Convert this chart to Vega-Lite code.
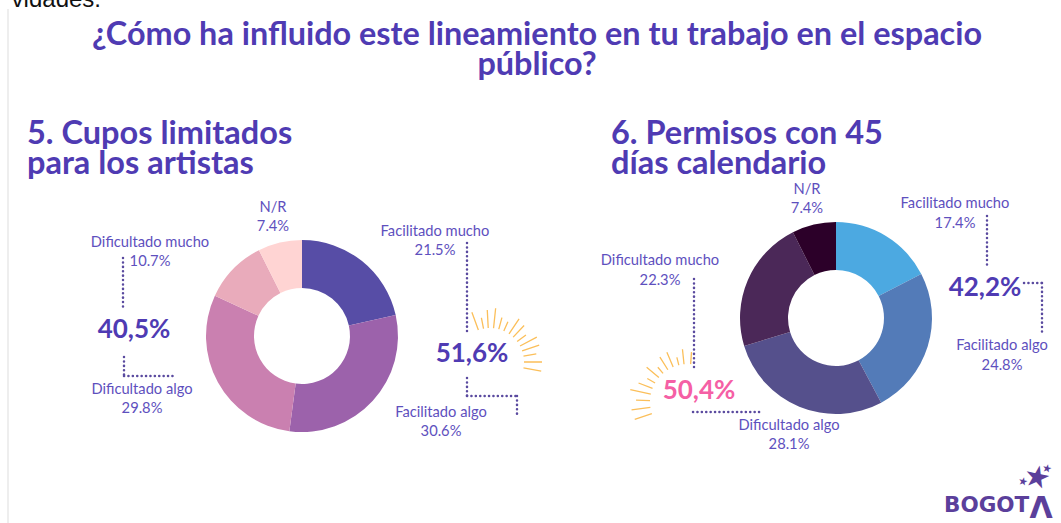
{"$schema":"https://vega.github.io/schema/vega-lite/v6.json","width":1061,"height":523,"autosize":{"type":"fit","contains":"padding"},"padding":0,"background":"white","config":{"view":{"stroke":null},"text":{"font":"Lato"}},
"data":{"values":[{"anotacion":1}]},
"datasets":{"d":[
{"grafico":5,"categoria":"Facilitado mucho","pct":21.5,"orden":1},{"grafico":5,"categoria":"Facilitado algo","pct":30.6,"orden":2},{"grafico":5,"categoria":"Dificultado algo","pct":29.8,"orden":3},{"grafico":5,"categoria":"Dificultado mucho","pct":10.7,"orden":4},{"grafico":5,"categoria":"N/R","pct":7.4,"orden":5},
{"grafico":6,"categoria":"Facilitado mucho","pct":17.4,"orden":1},{"grafico":6,"categoria":"Facilitado algo","pct":24.8,"orden":2},{"grafico":6,"categoria":"Dificultado algo","pct":28.1,"orden":3},{"grafico":6,"categoria":"Dificultado mucho","pct":22.3,"orden":4},{"grafico":6,"categoria":"N/R","pct":7.4,"orden":5}],
"rayos":[
{"sol":1,"a":-20,"r":53},{"sol":1,"a":-11,"r":45},{"sol":1,"a":-3,"r":52},{"sol":1,"a":6,"r":54},{"sol":1,"a":15,"r":46},{"sol":1,"a":24,"r":44},{"sol":1,"a":34,"r":52},{"sol":1,"a":43,"r":50},{"sol":1,"a":53,"r":45},{"sol":1,"a":62,"r":53},{"sol":1,"a":71,"r":52},{"sol":1,"a":80,"r":47},{"sol":1,"a":90,"r":52},{"sol":1,"a":100,"r":52},
{"sol":2,"a":4,"r":50},{"sol":2,"a":-6,"r":53},{"sol":2,"a":-14,"r":46},{"sol":2,"a":-23,"r":54},{"sol":2,"a":-32,"r":53},{"sol":2,"a":-41,"r":46},{"sol":2,"a":-50,"r":54},{"sol":2,"a":-60,"r":47},{"sol":2,"a":-69,"r":53},{"sol":2,"a":-78,"r":59},{"sol":2,"a":-88,"r":52},{"sol":2,"a":-98,"r":57},{"sol":2,"a":-108,"r":56}]},
"resolve":{"scale":{"color":"independent","theta":"independent","radius":"independent"}},
"layer":[
{"mark":{"type":"rule","color":"#e8e8e8","strokeWidth":1.5},"encoding":{"x":{"value":8},"y":{"value":9},"y2":{"value":523}}},
{"mark":{"type":"text","clip":true,"align":"right","baseline":"alphabetic","font":"Liberation Sans","fontSize":24,"color":"#111111","x":101,"y":7,"text":"vidades."},"encoding":{}},
{"mark":{"type":"text","align":"center","baseline":"middle","fontWeight":"bold","fontSize":32.4,"color":"#4F3BB3","lineHeight":30,"x":537,"y":35,"text":["¿Cómo ha influido este lineamiento en tu trabajo en el espacio","público?"]},"encoding":{}},
{"mark":{"type":"text","align":"left","baseline":"middle","fontWeight":"bold","fontSize":32.5,"color":"#4F3BB3","lineHeight":30,"x":27,"y":134,"text":["5. Cupos limitados","para los artistas"]},"encoding":{}},
{"mark":{"type":"text","align":"left","baseline":"middle","fontWeight":"bold","fontSize":32.5,"color":"#4F3BB3","lineHeight":30,"x":611,"y":134,"text":["6. Permisos con 45","días calendario"]},"encoding":{}},
{"data":{"name":"d"},"transform":[{"filter":"datum.grafico==5"}],"mark":{"type":"arc","innerRadius":48,"outerRadius":96},"encoding":{"x":{"value":302},"y":{"value":336},"theta":{"field":"pct","type":"quantitative","stack":true,"scale":{"domain":[0,100]}},"order":{"field":"orden"},"color":{"field":"categoria","legend":null,"scale":{"domain":["Facilitado mucho","Facilitado algo","Dificultado algo","Dificultado mucho","N/R"],"range":["#574DA6","#9C62AB","#CA80B0","#E9ABBB","#FFD4D3"]}}}},
{"data":{"name":"d"},"transform":[{"filter":"datum.grafico==6"}],"mark":{"type":"arc","innerRadius":48,"outerRadius":96},"encoding":{"x":{"value":836},"y":{"value":318},"theta":{"field":"pct","type":"quantitative","stack":true,"scale":{"domain":[0,100]}},"order":{"field":"orden"},"color":{"field":"categoria","legend":null,"scale":{"domain":["Facilitado mucho","Facilitado algo","Dificultado algo","Dificultado mucho","N/R"],"range":["#4CA9E1","#537BB8","#55508C","#4B2858","#2C0029"]}}}},
{"data":{"name":"rayos"},"transform":[{"filter":"datum.sol==1"}],"mark":{"type":"arc","fill":null,"stroke":"#FBBF5A","strokeWidth":1.3,"innerRadius":34},"encoding":{"x":{"value":490},"y":{"value":362},"theta":{"field":"a","type":"quantitative","stack":null,"scale":{"domain":[0,360],"range":[0,6.2832]}},"theta2":{"field":"a"},"radius":{"field":"r","type":"quantitative","scale":{"type":"linear","domain":[0,100],"range":[0,100]}}}},
{"data":{"name":"rayos"},"transform":[{"filter":"datum.sol==2"}],"mark":{"type":"arc","fill":null,"stroke":"#FBBF5A","strokeWidth":1.3,"innerRadius":38},"encoding":{"x":{"value":688},"y":{"value":402},"theta":{"field":"a","type":"quantitative","stack":null,"scale":{"domain":[0,360],"range":[0,6.2832]}},"theta2":{"field":"a"},"radius":{"field":"r","type":"quantitative","scale":{"type":"linear","domain":[0,100],"range":[0,100]}}}},
{"mark":{"type":"rule","color":"#5A4A9F","strokeWidth":2.5,"strokeCap":"round","strokeDash":[0.1,4.3]},"encoding":{"x":{"value":467},"y":{"value":243},"y2":{"value":335}}},
{"mark":{"type":"rule","color":"#5A4A9F","strokeWidth":2.5,"strokeCap":"round","strokeDash":[0.1,4.3]},"encoding":{"x":{"value":467},"y":{"value":378},"y2":{"value":396}}},
{"mark":{"type":"rule","color":"#5A4A9F","strokeWidth":2.5,"strokeCap":"round","strokeDash":[0.1,4.3]},"encoding":{"x":{"value":467},"x2":{"value":517},"y":{"value":396}}},
{"mark":{"type":"rule","color":"#5A4A9F","strokeWidth":2.5,"strokeCap":"round","strokeDash":[0.1,4.3]},"encoding":{"x":{"value":517},"y":{"value":396},"y2":{"value":414}}},
{"mark":{"type":"rule","color":"#5A4A9F","strokeWidth":2.5,"strokeCap":"round","strokeDash":[0.1,4.3]},"encoding":{"x":{"value":123},"y":{"value":258},"y2":{"value":310}}},
{"mark":{"type":"rule","color":"#5A4A9F","strokeWidth":2.5,"strokeCap":"round","strokeDash":[0.1,4.3]},"encoding":{"x":{"value":124},"y":{"value":357},"y2":{"value":376}}},
{"mark":{"type":"rule","color":"#5A4A9F","strokeWidth":2.5,"strokeCap":"round","strokeDash":[0.1,4.3]},"encoding":{"x":{"value":124},"x2":{"value":175},"y":{"value":376}}},
{"mark":{"type":"rule","color":"#5A4A9F","strokeWidth":2.5,"strokeCap":"round","strokeDash":[0.1,4.3]},"encoding":{"x":{"value":987},"y":{"value":216},"y2":{"value":268}}},
{"mark":{"type":"rule","color":"#5A4A9F","strokeWidth":2.5,"strokeCap":"round","strokeDash":[0.1,4.3]},"encoding":{"x":{"value":1024},"x2":{"value":1042},"y":{"value":283}}},
{"mark":{"type":"rule","color":"#5A4A9F","strokeWidth":2.5,"strokeCap":"round","strokeDash":[0.1,4.3]},"encoding":{"x":{"value":1042},"y":{"value":283},"y2":{"value":334}}},
{"mark":{"type":"rule","color":"#5A4A9F","strokeWidth":2.5,"strokeCap":"round","strokeDash":[0.1,4.3]},"encoding":{"x":{"value":694},"y":{"value":279},"y2":{"value":369}}},
{"mark":{"type":"rule","color":"#5A4A9F","strokeWidth":2.5,"strokeCap":"round","strokeDash":[0.1,4.3]},"encoding":{"x":{"value":693},"x2":{"value":761},"y":{"value":412}}},
{"mark":{"type":"text","align":"center","baseline":"middle","fontSize":14.7,"color":"#5E50BE","lineHeight":19,"x":435,"y":232,"text":["Facilitado mucho","21.5%"]},"encoding":{}},
{"mark":{"type":"text","align":"center","baseline":"middle","fontSize":14.7,"color":"#5E50BE","lineHeight":19,"x":150,"y":243,"text":["Dificultado mucho","  10.7%"]},"encoding":{}},
{"mark":{"type":"text","align":"center","baseline":"middle","fontSize":14.7,"color":"#5E50BE","lineHeight":19,"x":273,"y":208,"text":["N/R","7.4%"]},"encoding":{}},
{"mark":{"type":"text","align":"center","baseline":"middle","fontSize":14.7,"color":"#5E50BE","lineHeight":19,"x":142,"y":390,"text":["Dificultado algo","29.8%"]},"encoding":{}},
{"mark":{"type":"text","align":"center","baseline":"middle","fontSize":14.7,"color":"#5E50BE","lineHeight":19,"x":441,"y":413,"text":["Facilitado algo","30.6%"]},"encoding":{}},
{"mark":{"type":"text","align":"center","baseline":"middle","fontSize":14.7,"color":"#5E50BE","lineHeight":19,"x":807,"y":190,"text":["N/R","7.4%"]},"encoding":{}},
{"mark":{"type":"text","align":"center","baseline":"middle","fontSize":14.7,"color":"#5E50BE","lineHeight":20,"x":955,"y":204,"text":["Facilitado mucho","17.4%"]},"encoding":{}},
{"mark":{"type":"text","align":"center","baseline":"middle","fontSize":14.7,"color":"#5E50BE","lineHeight":20,"x":1002,"y":346,"text":["Facilitado algo","24.8%"]},"encoding":{}},
{"mark":{"type":"text","align":"center","baseline":"middle","fontSize":14.7,"color":"#5E50BE","lineHeight":20,"x":660,"y":261,"text":["Dificultado mucho","22.3%"]},"encoding":{}},
{"mark":{"type":"text","align":"center","baseline":"middle","fontSize":14.7,"color":"#5E50BE","lineHeight":19,"x":789,"y":426,"text":["Dificultado algo","28.1%"]},"encoding":{}},
{"mark":{"type":"text","align":"center","baseline":"middle","fontWeight":"bold","fontSize":26,"color":"#4F3BB3","x":134,"y":330,"text":"40,5%"},"encoding":{}},
{"mark":{"type":"text","align":"center","baseline":"middle","fontWeight":"bold","fontSize":26,"color":"#4F3BB3","x":472,"y":354,"text":"51,6%"},"encoding":{}},
{"mark":{"type":"text","align":"center","baseline":"middle","fontWeight":"bold","fontSize":26,"color":"#4F3BB3","x":985,"y":288,"text":"42,2%"},"encoding":{}},
{"mark":{"type":"text","align":"center","baseline":"middle","fontWeight":"bold","fontSize":26,"color":"#F55FA5","x":699,"y":391,"text":"50,4%"},"encoding":{}},
{"mark":{"type":"text","align":"left","baseline":"alphabetic","font":"DejaVu Sans","fontWeight":"bold","fontSize":21.5,"color":"#5B3F9B","x":944,"y":512,"text":"BOGOT"},"encoding":{}},
{"mark":{"type":"text","align":"center","baseline":"alphabetic","font":"DejaVu Sans","fontWeight":"bold","fontSize":30,"color":"#5B3F9B","x":1041,"y":518,"text":"Λ"},"encoding":{}},
{"mark":{"type":"text","align":"center","baseline":"middle","font":"DejaVu Sans","fontSize":30,"angle":12,"color":"#5B3F9B","x":1037,"y":478,"text":"★"},"encoding":{}},
{"mark":{"type":"text","align":"center","baseline":"middle","font":"DejaVu Sans","fontSize":11,"angle":12,"color":"#5B3F9B","x":1047,"y":469,"text":"★"},"encoding":{}},
{"mark":{"type":"text","align":"center","baseline":"middle","font":"DejaVu Sans","fontSize":11,"angle":12,"color":"#5B3F9B","x":1023,"y":482,"text":"★"},"encoding":{}}
]}
